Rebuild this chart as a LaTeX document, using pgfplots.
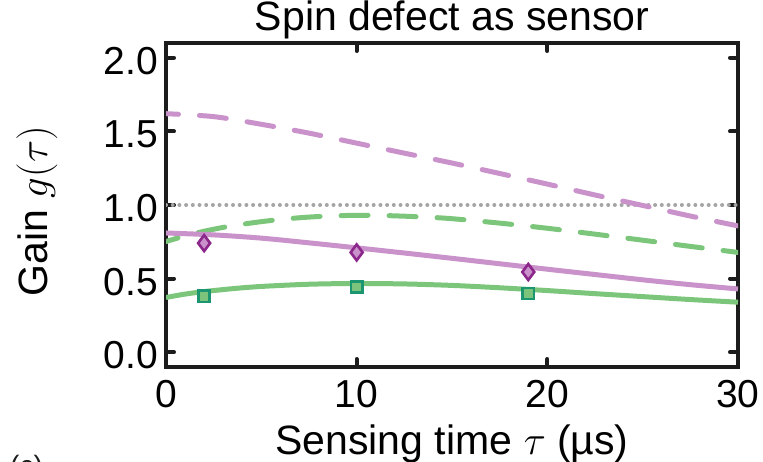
\RequirePackage{fix-cm}
\documentclass[border=0pt]{standalone}
\usepackage{fontspec}
\setmainfont{Liberation Sans}
\usepackage{pgfplots}
\pgfplotsset{compat=1.18}
\definecolor{pinkline}{RGB}{202,146,202}
\definecolor{purpmark}{RGB}{140,40,140}
\definecolor{greenline}{RGB}{124,198,124}
\definecolor{greenmark}{RGB}{28,150,112}
\definecolor{greenfill}{RGB}{124,196,124}
\definecolor{axcol}{RGB}{28,28,28}
\definecolor{dotgray}{RGB}{165,165,165}

\pgfplotstableread{
t g
0 1.620
2.5 1.600
5 1.548
7.5 1.488
10 1.420
12.5 1.352
15 1.285
17.5 1.214
20 1.142
22.5 1.068
25 0.997
27.5 0.925
30 0.858
}\pinkdashed

\pgfplotstableread{
t g
0 0.752
1 0.790
2 0.822
3 0.848
4 0.869
5 0.887
6.25 0.905
7.5 0.918
8.75 0.926
10 0.930
11.25 0.929
12.5 0.924
13.75 0.917
15 0.907
17.5 0.877
20 0.842
22.5 0.802
25 0.761
27.5 0.719
30 0.678
}\greendashed

\pgfplotstableread{
t g
0 0.810
2.5 0.797
5 0.775
7.5 0.743
10 0.709
12.5 0.674
15 0.638
17.5 0.601
20 0.564
22.5 0.528
25 0.492
27.5 0.459
30 0.430
}\pinksolid

\pgfplotstableread{
t g
0 0.372
1 0.395
2 0.412
3.5 0.432
5 0.447
7.5 0.462
10 0.467
12.5 0.464
15 0.454
17.5 0.438
20 0.419
22.5 0.398
25 0.378
27.5 0.358
30 0.340
}\greensolid

\pgfplotstableread{
t g
2 0.741
10 0.678
19 0.545
}\diamonds

\pgfplotstableread{
t g
2 0.380
10 0.444
19 0.399
}\squares

\begin{document}
\begin{tikzpicture}
\useasboundingbox (0,0) rectangle (763pt,461pt);
\begin{axis}[
  at={(166pt,94pt)}, anchor=south west,
  scale only axis, width=572pt, height=324pt,
  xmin=0, xmax=30, ymin=-0.1, ymax=2.1,
  xtick={0,10,20,30}, ytick={0,0.5,1,1.5,2},
  tick align=inside, major tick length=8pt,
  axis line style={line width=4pt, axcol},
  every tick/.style={line width=4pt, axcol, line cap=round},
  /pgf/number format/assume math mode=true,
  yticklabel style={/pgf/number format/fixed, /pgf/number format/fixed zerofill, /pgf/number format/precision=1,
    font=\fontsize{39}{46}\selectfont, inner sep=0pt, anchor=east, xshift=-8pt, yshift=-3pt},
  xticklabel style={font=\fontsize{39}{46}\selectfont, inner sep=0pt, anchor=north, yshift=-13pt},
  every axis title shift=0pt,
  title={Spin defect as sensor},
  title style={font=\fontsize{41}{48}\selectfont, at={(axis description cs:0.5,1)}, anchor=base, yshift=12pt, inner sep=0pt},
  xlabel={Sensing time $\tau$ (µs)},
  xlabel style={font=\fontsize{41}{48}\selectfont, at={(axis description cs:0.5,0)}, anchor=base, yshift=-87pt, inner sep=0pt},
  ylabel={Gain $g(\tau)$},
  ylabel style={font=\fontsize{41}{48}\selectfont, at={(axis description cs:-0.208,0.481)}, anchor=base, inner sep=0pt},
  clip=true,
]
\addplot[dotgray, line width=4pt, line cap=round, dash pattern=on 0pt off 6.7pt] coordinates {(0,1) (30,1)};
\addplot[pinkline, line width=5pt, line cap=round, dash pattern=on 27pt off 21pt, dash phase=14.5pt, smooth] table[x=t,y=g] {\pinkdashed};
\addplot[greenline, line width=5pt, line cap=round, dash pattern=on 27pt off 21pt, dash phase=14.5pt, smooth] table[x=t,y=g] {\greendashed};
\addplot[pinkline, line width=5pt, smooth] table[x=t,y=g] {\pinksolid};
\addplot[greenline, line width=5pt, smooth] table[x=t,y=g] {\greensolid};
\addplot[only marks, mark=diamond*, mark size=8pt, mark options={draw=purpmark, fill=pinkline, line width=2.6pt}] table[x=t,y=g] {\diamonds};
\addplot[only marks, mark=square*, mark size=5.6pt, mark options={draw=greenmark, fill=greenfill, line width=2.6pt}] table[x=t,y=g] {\squares};
\end{axis}
\node[anchor=base west, inner sep=0pt, font=\fontsize{28}{34}\selectfont, axcol] at (10pt,-14pt) {(c)};
\end{tikzpicture}
\end{document}
